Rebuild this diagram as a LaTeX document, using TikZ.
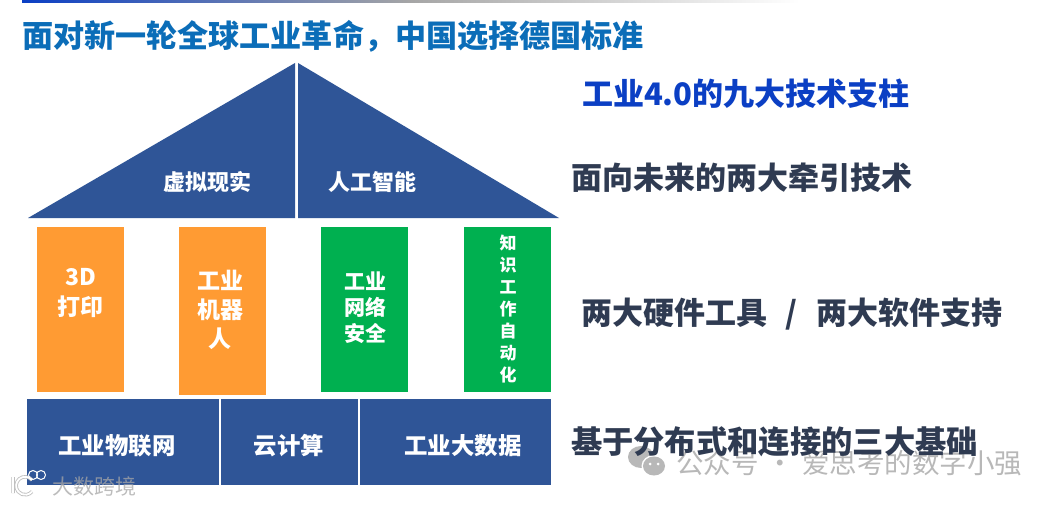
\documentclass[tikz,border=0pt]{standalone}
\usepackage{fontspec}
\setmainfont{Noto Sans CJK SC}
\definecolor{roofblue}{HTML}{2F5597}
\definecolor{orangebox}{HTML}{FF9B33}
\definecolor{greenbox}{HTML}{00B050}
\definecolor{titleblue}{HTML}{0B6DB8}
\definecolor{headblue}{HTML}{0B3FC4}
\definecolor{darktext}{HTML}{2F3B52}
\definecolor{wmgray}{HTML}{B8B8B8}
\tikzset{
  fillshape/.style={draw=none,fill=#1,inner sep=0pt,outer sep=0pt},
  fs/.style={font=\fontsize{#1}{#1}\selectfont\bfseries,inner sep=0pt,outer sep=0pt},
  boxtext/.style={fs=#1,text=white,align=center},
  sidetext/.style={fs=#1,text=darktext,anchor=west},
  wm/.style={inner sep=0pt,text=wmgray,anchor=west}
}
\begin{document}
\begin{tikzpicture}[x=1pt,y=-1pt]
\useasboundingbox (0,0) rectangle (1057,505);
\fill[white] (0,0) rectangle (1057,505);
\shade[left color=headblue,right color=white,middle color=gray!70] (22,0) rectangle (800,3);
% roof
\path[fill=roofblue] (28,218) -- (295,63) -- (295,218) -- cycle;
\path[fill=roofblue] (298,63) -- (559,218) -- (298,218) -- cycle;
\node[boxtext=22] (vr) at (207,182) {虚拟现实};
\node[boxtext=22] (ai) at (372,182) {人工智能};
% pillars
\node[fillshape=orangebox,minimum width=87pt,minimum height=165pt] (p1) at (80.5,309.5) {};
\node[fillshape=orangebox,minimum width=87pt,minimum height=168pt] (p2) at (222.5,311) {};
\node[fillshape=greenbox,minimum width=87pt,minimum height=165pt] (p3) at (364.5,309.5) {};
\node[fillshape=greenbox,minimum width=87pt,minimum height=165pt] (p4) at (507.5,309.5) {};
\node[boxtext=23] (t1) at (80.5,293) {3D\\[7pt]打印};
\node[boxtext=23] (t2) at (220,310) {工业\\[6pt]机器\\[6pt]人};
\node[boxtext=21] (t3) at (365,308) {工业\\[5pt]网络\\[5pt]安全};
\node[boxtext=17] (t4) at (508,309) {知\\[5pt]识\\[5pt]工\\[5pt]作\\[5pt]自\\[5pt]动\\[5pt]化};
% base
\node[fillshape=roofblue,minimum width=192pt,minimum height=86pt] (b1) at (123,442) {};
\node[fillshape=roofblue,minimum width=137pt,minimum height=86pt] (b2) at (289.5,442) {};
\node[fillshape=roofblue,minimum width=191pt,minimum height=86pt] (b3) at (455.5,442) {};
\node[boxtext=23.4] (bt1) at (117,446) {工业物联网};
\node[boxtext=23.4] (bt2) at (289,446) {云计算};
\node[boxtext=23.4] (bt3) at (463,446) {工业大数据};
% watermark behind the last side text
\node[wm,font=\fontsize{27.5}{27.5}\selectfont] (w2) at (676,463) {公众号\hspace{8pt}·\hspace{8pt}爱思考的数字小强};
\fill[wmgray] (641,457) ellipse (13pt and 11pt);
\fill[white] (654,466) ellipse (12.5pt and 11pt);
\fill[wmgray] (654,466) ellipse (11pt and 9.5pt);
\fill[white] (650,464) circle (1.5pt) (658,464) circle (1.5pt);
% headings
\node[fs=31.1,text=titleblue,anchor=west] (title) at (22,36) {面对新一轮全球工业革命，中国选择德国标准};
\node[fs=31,text=headblue,anchor=west] (head) at (582,94) {工业4.0的九大技术支柱};
\node[sidetext=31] (s1) at (571,178) {面向未来的两大牵引技术};
\node[sidetext=31] (s2) at (581,314) {两大硬件工具\hspace{19pt}/\hspace{19pt}两大软件支持};
\node[sidetext=31.3] (s3) at (571,442) {基于分布式和连接的三大基础};
% logo watermark
\node[wm,font=\fontsize{21}{21}\selectfont,text=black!35,opacity=.75] (w1) at (52,486) {大数跨境};
\draw[black!25,line width=3.5pt] (13,477) -- (13,493) (32,480) arc (40:320:9pt);
\draw[white,line width=1.8pt] (13,477) -- (13,493) (32,480) arc (40:320:9pt);
\draw[white,line width=1pt] (33,475) circle (4.5pt) (41,475) circle (4.5pt);
\end{tikzpicture}
\end{document}
